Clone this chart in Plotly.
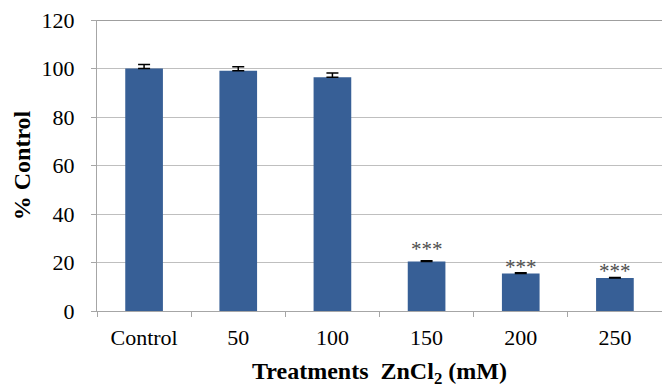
import plotly.graph_objects as go

categories = ["Control", "50", "100", "150", "200", "250"]
values = [100.0, 99.1, 96.4, 20.4, 15.5, 13.6]
errors = [1.7, 1.6, 1.7, 0.3, 0.3, 0.2]
stars = ["", "", "", "***", "***", "***"]
star_y = [0, 0, 0, 25.5, 18.0, 16.5]

FONT = "Liberation Serif"

fig = go.Figure()
fig.add_trace(go.Bar(
    x=categories, y=values,
    marker=dict(color="#375f96", line=dict(width=0)),
    error_y=dict(type="data", array=errors, arrayminus=[0]*len(errors),
                 symmetric=False, color="black", thickness=1.5, width=6),
))

for i, (s, yv) in enumerate(zip(stars, star_y)):
    if s:
        fig.add_annotation(x=i, y=yv, text=s, showarrow=False,
                           font=dict(family=FONT, size=21, color="#4d4d4d"),
                           yanchor="middle")

fig.add_shape(type="line", xref="paper", yref="y", x0=0, x1=1, y0=120, y1=120,
              line=dict(color="#7f7f7f", width=1.5))

fig.update_layout(
    width=662, height=388,
    margin=dict(l=97, r=0, t=20, b=77),
    plot_bgcolor="white", paper_bgcolor="white",
    font=dict(family=FONT, size=22, color="black"),
    showlegend=False,
    bargap=0.6,
)
fig.update_xaxes(
    type="category", categoryorder="array", categoryarray=categories,
    range=[-0.5, 5.5],
    showline=True, linecolor="#a6a6a6", linewidth=1,
    ticks="outside", tickson="boundaries", ticklen=5, tickcolor="#a6a6a6",
    ticklabelstandoff=7,
    tickfont=dict(family=FONT, size=22, color="black"),
    title=dict(text="<b>Treatments  ZnCl<sub>2</sub> (mM)</b>",
               font=dict(family=FONT, size=24, color="black"), standoff=14),
)
fig.update_yaxes(
    range=[0, 120], dtick=20, showline=True, linecolor="#a6a6a6", linewidth=1,
    ticks="outside", ticklen=5, tickcolor="#a6a6a6",
    ticklabelstandoff=12,
    showgrid=True, gridcolor="#bfbfbf", gridwidth=1,
    tickfont=dict(family=FONT, size=22, color="black"),
    title=dict(text="<b>% Control</b>",
               font=dict(family=FONT, size=24, color="black"), standoff=4),
)

fig.write_html("out.html")
